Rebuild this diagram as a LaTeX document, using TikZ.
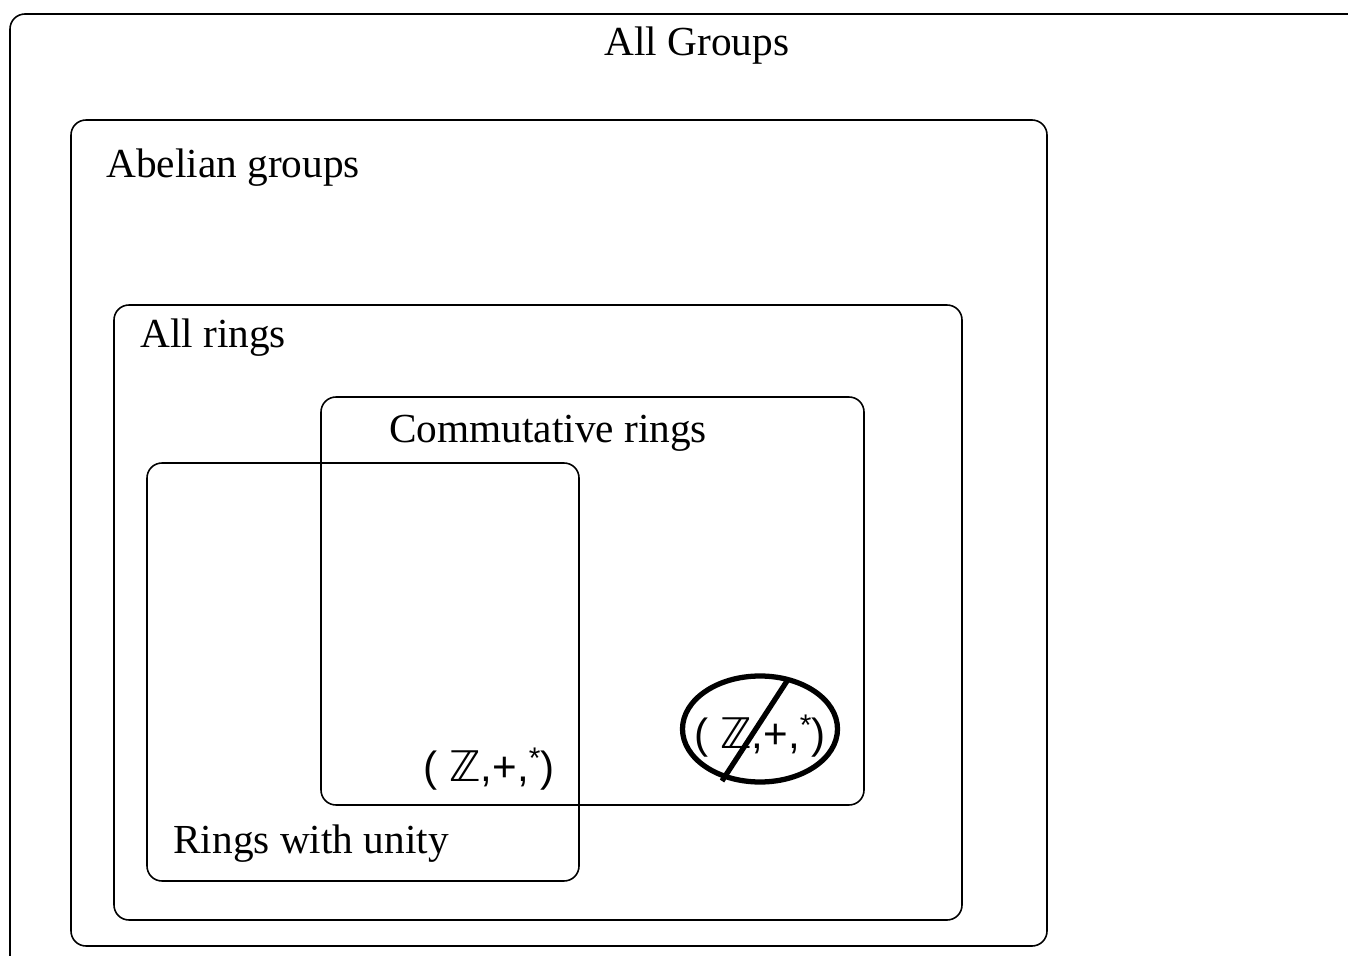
\documentclass[tikz,border=0pt]{standalone}
\usepackage{fontspec}
\setmainfont{Liberation Serif}
\newfontfamily\tuplefont{Liberation Sans}
\newfontfamily\zfont{DejaVu Sans}
\usetikzlibrary{positioning,shapes.geometric}

\tikzset{
  setbox/.style={draw, line width=0.9pt, rounded corners=0.3cm},
  setlabel/.style={font=\fontsize{23.5}{28}\selectfont, inner sep=0pt},
  tuplelabel/.style={font=\tuplefont\fontsize{24}{28}\selectfont, inner sep=0pt},
  crossout/.style={line width=3pt}
}
\newcommand{\ztuple}{( {\zfont ℤ},+,\raisebox{0.3em}{\fontsize{17}{19}\selectfont *})}

\begin{document}
\begin{tikzpicture}
  \useasboundingbox (0,0) rectangle (26.96,19.1);
  \clip (0,0) rectangle (26.96,19.1);

  % Nested classes
  \draw[setbox] (0.2,18.82) rectangle (28,-1);
  \draw[setbox] (1.42,0.18) rectangle (20.94,16.7);
  \draw[setbox] (2.28,0.7) rectangle (19.24,13.0);
  \draw[setbox] (6.42,3.0) rectangle (17.28,11.16);
  \draw[setbox] (2.94,1.48) rectangle (11.58,9.84);

  % Labels
  \node[setlabel] (groups) at (13.94,18.18) {All Groups};
  \node[setlabel, anchor=west] (abelian) at (2.12,15.74) {Abelian groups};
  \node[setlabel, anchor=west] (rings) at (2.8,12.34) {All rings};
  \node[setlabel] (comm) at (10.96,10.44) {Commutative rings};
  \node[setlabel, anchor=west] (unity) at (3.46,2.22) {Rings with unity};

  % Integers
  \node[tuplelabel] (zin) at (9.78,3.72) {\ztuple};

  % Integers, crossed out
  \node[draw, ellipse, line width=3pt, minimum width=3.1cm, minimum height=2.12cm,
        inner sep=0pt] (zout) at (15.2,4.52) {};
  \node[tuplelabel] (zouttext) at (15.2,4.38) {\ztuple};
  \coordinate (slashtop) at (15.74,5.48);
  \coordinate (slashbot) at (14.44,3.48);
  \draw[crossout] (slashtop) -- (slashbot);
\end{tikzpicture}
\end{document}
